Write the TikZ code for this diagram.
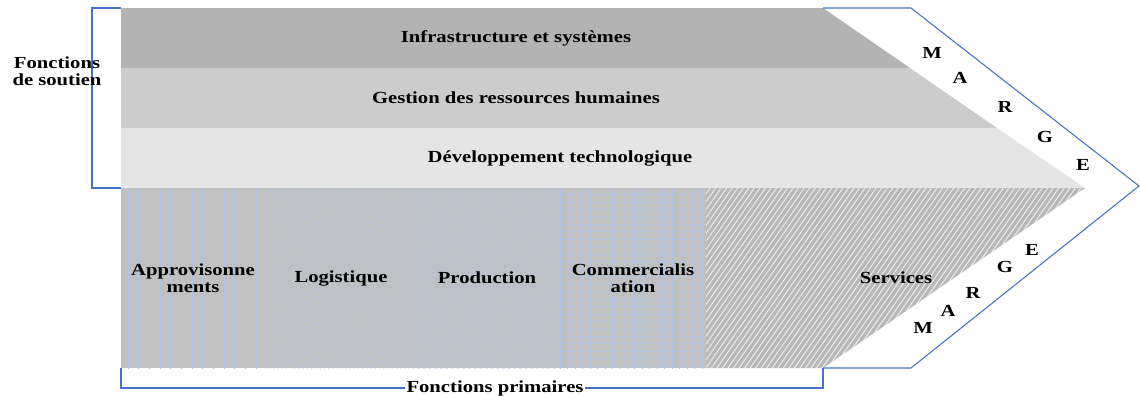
\documentclass[tikz,border=0pt]{standalone}
\usepackage{fontspec}
\setmainfont{Liberation Serif}[FakeStretch=1.22]
\usetikzlibrary{patterns.meta}

\definecolor{bandone}{RGB}{179,179,179}
\definecolor{bandtwo}{RGB}{204,204,204}
\definecolor{bandthree}{RGB}{229,229,229}
\definecolor{primgray}{RGB}{192,192,192}
\definecolor{servgray}{RGB}{184,184,184}
\definecolor{hatchblue}{RGB}{178,196,226}
\definecolor{edgeblue}{RGB}{68,114,196}

\tikzset{
  lbl/.style={font=\fontsize{12.7}{12.8}\selectfont\bfseries, align=center, inner sep=0pt},
  marge/.style={font=\fontsize{12.7}{13}\selectfont\bfseries, inner sep=0pt},
  outline/.style={draw=edgeblue, line width=0.8pt},
  primbox/.style={fill=primgray, postaction={pattern color=hatchblue, #1}},
}

\begin{document}
\begin{tikzpicture}[x=0.75pt, y=-0.75pt]
  \useasboundingbox (0,0) rectangle (1140,396);
  % activites de soutien
  \fill [bandone] (121,8) -- (823,8) -- (910,68) -- (121,68) -- cycle;
  \fill [bandtwo] (121,68) -- (910,68) -- (997,128) -- (121,128) -- cycle;
  \fill [bandthree] (121,128) -- (997,128) -- (1085,188) -- (121,188) -- cycle;
  % activites primaires
  \path [primbox={pattern={Lines[angle=90,distance=8pt,line width=0.45pt]}}] (121,188) rectangle (265,368);
  \path [primbox={pattern={Hatch[angle=45,distance=4.5pt,line width=0.25pt]}}] (265,188) rectangle (412,368);
  \path [primbox={pattern={Hatch[angle=45,distance=3pt,line width=0.25pt]}}] (412,188) rectangle (560,368);
  \path [primbox={pattern={Hatch[angle=0,distance=5.6pt,line width=0.4pt]}}] (560,188) rectangle (706,368);
  \path [fill=servgray, postaction={pattern color=white!85!servgray, pattern={Lines[angle=55,distance=3.4pt,line width=0.6pt]}}]
    (706,188) -- (1085,188) -- (823,368) -- (706,368) -- cycle;
  % contours bleus
  \draw [outline] (121,8) -- (92,8) -- (92,188) -- (121,188);
  \draw [outline] (823,8) -- (911,8) -- (1139,186) -- (911,368) -- (823,368);
  \draw [outline] (823,368) -- (823,388) -- (121,388) -- (121,368);
  % textes
  \node [lbl] (infra) at (516,38) {Infrastructure et systèmes};
  \node [lbl] (grh) at (516,98) {Gestion des ressources humaines};
  \node [lbl] (devtech) at (560,158) {Développement technologique};
  \node [lbl] (appro) at (193,278) {Approvisonne\\ments};
  \node [lbl] (logist) at (341,278) {Logistique};
  \node [lbl] (prod) at (487,278) {Production};
  \node [lbl] (commerc) at (633,278) {Commercialis\\ation};
  \node [lbl] (serv) at (896,278) {Services};
  \node [lbl] (soutien) at (57,71) {Fonctions\\de soutien};
  \node [lbl, fill=white, inner xsep=1pt, inner ysep=2pt] (primaires) at (495,388) {Fonctions primaires};
  % marge
  \foreach \l/\x/\y [count=\i] in {M/932/53, A/960/78, R/1005/107, G/1045/137, E/1083/165}
    \node [marge] (mhaut\i) at (\x,\y) {\l};
  \foreach \l/\x/\y [count=\i] in {M/923/328, A/948/311, R/973/293, G/1005/267, E/1032/250}
    \node [marge] (mbas\i) at (\x,\y) {\l};
\end{tikzpicture}
\end{document}
